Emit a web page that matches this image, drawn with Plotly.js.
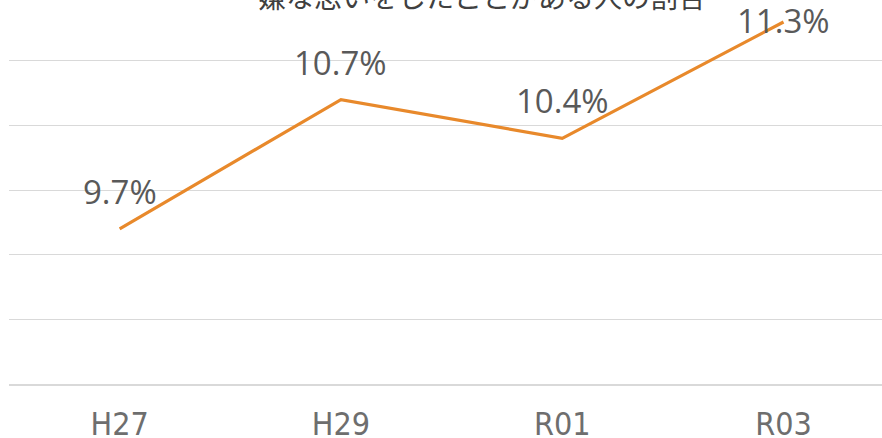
<!DOCTYPE html>
<html>
<head>
<meta charset="utf-8">
<script src="https://cdn.plot.ly/plotly-3.0.1.min.js"></script>
<style>html,body{margin:0;padding:0;background:#fff;}#chart{width:882px;height:438px;}</style>
</head>
<body>
<div id="chart"></div>
<script>
var titleText = "嫌な思いをしたことがある人の割合";
var categories = ["H27", "H29", "R01", "R03"];
var values = [9.7, 10.7, 10.4, 11.3];

var labelFont = {family: "Open Sans, Noto Sans, sans-serif", size: 33, color: "#595959"};
var annotations = values.map(function (v, i) {
  var last = i === values.length - 1;
  return {
    x: categories[i], y: v, xref: "x", yref: "y",
    text: v.toFixed(1) + "%",
    showarrow: false,
    xanchor: "center",
    yanchor: last ? "middle" : "bottom",
    yshift: last ? 1 : 13,
    font: labelFont
  };
});
annotations.push({
  text: titleText, xref: "paper", yref: "paper", x: 0.542, y: 1,
  xanchor: "center", yanchor: "middle", yshift: 4, showarrow: false,
  font: {family: "Noto Sans CJK JP, sans-serif", size: 28, color: "#404040"}
});

var trace = {
  x: categories, y: values, type: "scatter", mode: "lines",
  line: {color: "#E8892B", width: 3.2},
  hoverinfo: "skip"
};

var layout = {
  width: 882, height: 438,
  margin: {l: 9, r: 0, t: 0, b: 54},
  paper_bgcolor: "#ffffff", plot_bgcolor: "#ffffff",
  showlegend: false,
  xaxis: {
    type: "category", range: [-0.5, 3.445],
    showgrid: false, zeroline: false,
    showline: true, linecolor: "#d9d9d9", linewidth: 1.5,
    ticks: "outside", ticklen: 11, tickcolor: "rgba(0,0,0,0)",
    tickfont: {family: "Liberation Sans Narrow, DejaVu Sans Condensed, sans-serif", size: 32, color: "#6e6e6e"}
  },
  yaxis: {
    range: [8.5, 11.47], dtick: 0.5, tick0: 8.5,
    showgrid: true, gridcolor: "#d9d9d9", gridwidth: 1,
    zeroline: false, showline: false, showticklabels: false, ticks: ""
  },
  annotations: annotations
};

Plotly.newPlot("chart", [trace], layout, {displayModeBar: false, staticPlot: true});
</script>
</body>
</html>
